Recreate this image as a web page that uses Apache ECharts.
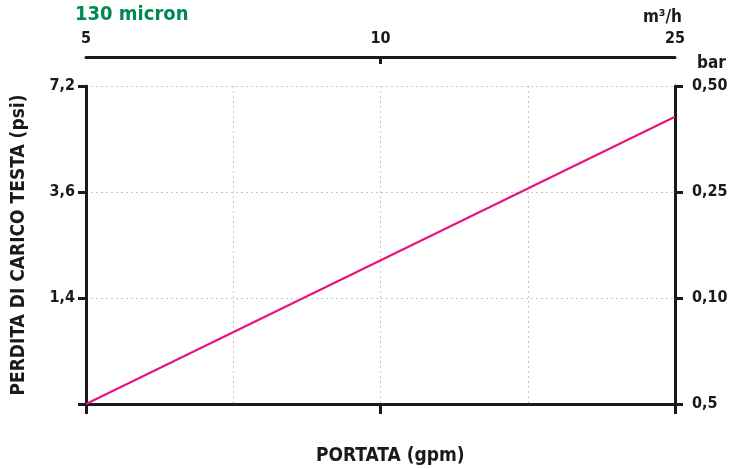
<!DOCTYPE html>
<html><head><meta charset="utf-8">
<script src="https://cdn.jsdelivr.net/npm/echarts@6/dist/echarts.min.js"></script>
<style>html,body{margin:0;padding:0;background:#fff}#c{width:742px;height:469px}</style>
</head><body><div id="c"></div>
<script>
// Top axis (m³/h) tick slots, evenly spaced
const topLabels = ['5', '', '10', '', '25'];
// Left axis (psi) labels, bottom to top
const leftLabels = ['', '1,4', '3,6', '7,2'];
// Right axis (bar) labels, bottom to top
const rightLabels = ['0,5', '0,10', '0,25', '0,50'];
// Line series, in axis slot positions
const flowPos = [0, 4];
const lossPos = [0, 2.71];

const FONT = "'Liberation Sans Narrow', 'DejaVu Sans Condensed', sans-serif";
const BLACK = '#1a1a1a';
const lbl = {color: BLACK, fontFamily: FONT, fontWeight: 'bold', fontSize: 16};
const grid = {left: 86, right: 67, top: 86, bottom: 65};

const chart = echarts.init(document.getElementById('c'), null, {renderer: 'canvas'});
chart.setOption({
  animation: false,
  backgroundColor: '#fff',
  title: [
    {text: '130 micron', left: 70, top: 0, textStyle: {color: '#00894f', fontFamily: FONT, fontWeight: 'bold', fontSize: 20}},
    {text: 'm³/h', right: 55, top: 4, textStyle: Object.assign({}, lbl, {fontSize: 17})},
    {text: 'bar', left: 692, top: 50, textStyle: Object.assign({}, lbl, {fontSize: 17})},
    {text: 'PORTATA (gpm)', left: 311, top: 442, textStyle: Object.assign({}, lbl, {fontSize: 19})}
  ],
  grid: grid,
  xAxis: [
    {type: 'value', position: 'bottom', min: 0, max: 4, interval: 1,
      axisLine: {show: true, lineStyle: {color: BLACK, width: 3}},
      axisTick: {show: false}, axisLabel: {show: false},
      splitLine: {show: true, lineStyle: {color: '#c8c8c8', type: [2, 3], width: 1}}},
    {type: 'category', position: 'bottom', data: topLabels, boundaryGap: false,
      axisLine: {show: false},
      axisTick: {show: true, length: 10, interval: (i) => i % 2 === 0, lineStyle: {color: BLACK, width: 3}},
      axisLabel: {show: false}, splitLine: {show: false}},
    {type: 'category', position: 'top', offset: 29, data: topLabels, boundaryGap: false,
      axisLine: {show: true, lineStyle: {color: BLACK, width: 3}},
      axisTick: {show: true, inside: true, length: 7, interval: (i) => i === 2, lineStyle: {color: BLACK, width: 3}},
      axisLabel: Object.assign({}, lbl, {interval: 0, margin: 10}), splitLine: {show: false}}
  ],
  yAxis: [
    {type: 'value', position: 'left', min: 0, max: 3, interval: 1,
      name: 'PERDITA DI CARICO TESTA (psi)', nameLocation: 'middle', nameGap: 57, nameRotate: 90,
      nameTextStyle: Object.assign({}, lbl, {fontSize: 19}),
      axisLine: {show: true, lineStyle: {color: BLACK, width: 3}},
      axisTick: {show: true, length: 8, lineStyle: {color: BLACK, width: 3}},
      axisLabel: Object.assign({}, lbl, {margin: 11, formatter: (v) => leftLabels[Math.round(v)] || ''}),
      splitLine: {show: true, lineStyle: {color: '#c8c8c8', type: [2, 3], width: 1}}},
    {type: 'value', position: 'right', min: 0, max: 3, interval: 1,
      axisLine: {show: true, lineStyle: {color: BLACK, width: 3}},
      axisTick: {show: true, length: 8, lineStyle: {color: BLACK, width: 3}},
      axisLabel: Object.assign({}, lbl, {margin: 17, formatter: (v) => rightLabels[Math.round(v)] || ''}),
      splitLine: {show: false}}
  ],
  series: [{
    type: 'line', xAxisIndex: 0, yAxisIndex: 0, symbol: 'none',
    data: flowPos.map((x, i) => [x, lossPos[i]]),
    lineStyle: {color: '#e6127f', width: 2}, z: 5
  }]
});
</script></body></html>
